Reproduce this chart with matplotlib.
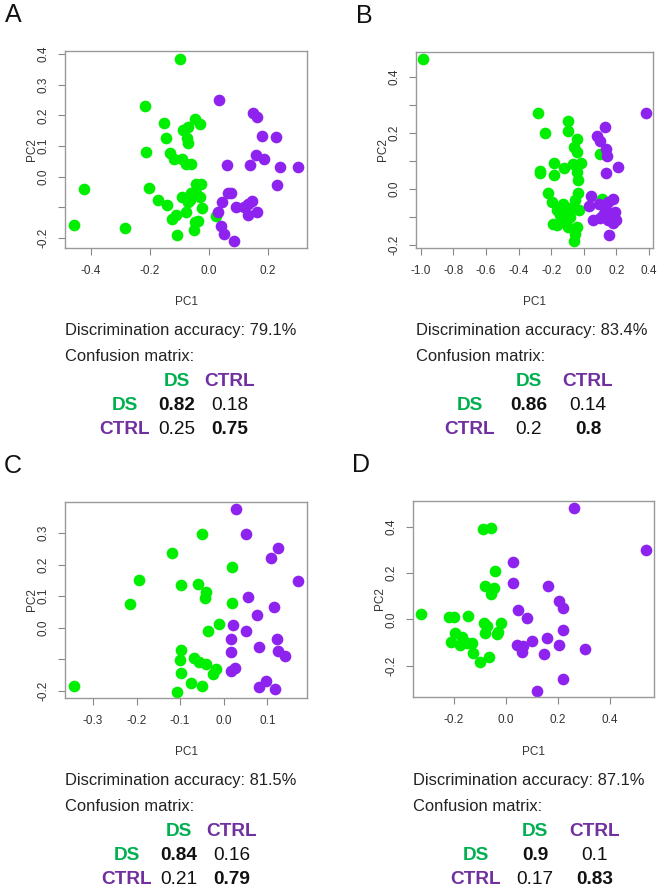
import numpy as np
import matplotlib
matplotlib.use('Agg')
import matplotlib.pyplot as plt

plt.rcParams['font.family'] = ['Liberation Sans', 'DejaVu Sans']

# ---- panel A scores ----
a_ds_pc1 = [-0.099, -0.217, -0.212, -0.153, -0.147, -0.133, -0.120, -0.090, -0.079, -0.060,
            -0.088, -0.071, -0.048, -0.032, -0.074, -0.071, -0.424, -0.457, -0.284, -0.205,
            -0.172, -0.142, -0.124, -0.111, -0.079, -0.108, -0.090, -0.065, -0.043, -0.026,
            -0.043, -0.032, -0.048, -0.052, -0.037, -0.023, 0.023, -0.060, -0.071]
a_ds_pc2 = [0.384, 0.230, 0.082, 0.176, 0.128, 0.078, 0.057, 0.057, 0.043, 0.041,
            0.154, 0.163, 0.190, 0.172, 0.125, 0.109, -0.040, -0.157, -0.166, -0.035,
            -0.076, -0.092, -0.139, -0.125, -0.114, -0.191, -0.065, -0.076, -0.054, -0.022,
            -0.022, -0.065, -0.147, -0.174, -0.143, -0.103, -0.127, -0.054, -0.082]
a_ctrl_pc1 = [0.033, 0.149, 0.163, 0.180, 0.228, 0.062, 0.140, 0.158, 0.186, 0.242,
              0.301, 0.231, 0.064, 0.045, 0.030, 0.092, 0.117, 0.132, 0.146, 0.132,
              0.163, 0.042, 0.050, 0.085, 0.075]
a_ctrl_pc2 = [0.250, 0.209, 0.196, 0.134, 0.130, 0.040, 0.038, 0.071, 0.058, 0.033,
              0.033, -0.027, -0.054, -0.082, -0.116, -0.098, -0.098, -0.089, -0.078, -0.123,
              -0.116, -0.161, -0.185, -0.209, -0.054]

# ---- panel B scores ----
b_ds_pc1 = [-0.988, -0.280, -0.239, -0.269, -0.267, -0.182, -0.180, -0.096, -0.100, -0.041,
            -0.059, -0.045, -0.120, -0.065, -0.020, -0.045, -0.035, -0.218, -0.198, -0.167,
            -0.127, -0.096, -0.147, -0.188, -0.163, -0.127, -0.096, -0.055, -0.035, -0.061,
            -0.029, -0.086, -0.045, -0.055, -0.061, 0.098, 0.114]
b_ds_pc2 = [0.464, 0.272, 0.200, 0.063, 0.057, 0.093, 0.049, 0.243, 0.206, 0.177,
            0.150, 0.132, 0.075, 0.087, 0.091, 0.061, 0.031, -0.017, -0.047, -0.076,
            -0.053, -0.070, -0.094, -0.126, -0.130, -0.112, -0.136, -0.041, -0.014, -0.070,
            -0.076, -0.100, -0.136, -0.162, -0.186, 0.124, -0.038]
b_ctrl_pc1 = [0.384, 0.129, 0.078, 0.098, 0.135, 0.139, 0.133, 0.210, 0.041, 0.033,
              0.057, 0.098, 0.129, 0.149, 0.176, 0.159, 0.190, 0.200, 0.149, 0.180,
              0.155, 0.094, 0.118]
b_ctrl_pc2 = [0.270, 0.222, 0.189, 0.172, 0.142, 0.118, 0.057, 0.079, -0.026, -0.062,
              -0.112, -0.106, -0.070, -0.047, -0.035, -0.088, -0.082, -0.112, -0.112, -0.124,
              -0.166, -0.055, -0.094]

# ---- panel C scores ----
c_ds_pc1 = [-0.344, -0.215, -0.194, -0.118, -0.097, -0.050, -0.059, -0.040, -0.044, 0.020,
            0.018, -0.011, -0.036, -0.097, -0.101, -0.097, -0.068, -0.056, -0.040, -0.018,
            -0.024, -0.076, -0.050, -0.106]
c_ds_pc2 = [-0.183, 0.074, 0.151, 0.237, 0.135, 0.298, 0.140, 0.114, 0.093, 0.191,
            0.077, 0.011, -0.009, -0.071, -0.102, -0.144, -0.095, -0.107, -0.116, -0.131,
            -0.147, -0.176, -0.183, -0.202]
c_ctrl_pc1 = [0.029, 0.050, 0.124, 0.109, 0.170, 0.056, 0.115, 0.076, 0.021, 0.052,
              0.016, 0.081, 0.123, 0.124, 0.141, 0.016, 0.016, 0.027, 0.081, 0.098, 0.117]
c_ctrl_pc2 = [0.375, 0.296, 0.254, 0.221, 0.147, 0.096, 0.066, 0.042, 0.008, -0.011,
              -0.034, -0.060, -0.034, -0.073, -0.088, -0.076, -0.137, -0.128, -0.186, -0.167, -0.192]

# ---- panel D scores ----
d_ds_pc1 = [-0.326, -0.221, -0.199, -0.146, -0.195, -0.212, -0.169, -0.176, -0.150, -0.131,
            -0.128, -0.101, -0.067, -0.090, -0.058, -0.044, -0.079, -0.047, -0.056, -0.086,
            -0.073, -0.079, -0.035, -0.019, -0.032]
d_ds_pc2 = [0.022, 0.009, 0.009, 0.016, -0.060, -0.099, -0.075, -0.111, -0.103, -0.103,
            -0.144, -0.185, -0.161, 0.389, 0.396, 0.208, 0.144, 0.134, 0.109, -0.014,
            -0.027, -0.057, -0.063, -0.014, -0.053]
d_ctrl_pc1 = [0.263, 0.540, 0.027, 0.027, 0.160, 0.045, 0.081, 0.203, 0.219, 0.219,
              0.042, 0.065, 0.062, 0.100, 0.158, 0.145, 0.203, 0.303, 0.219, 0.119]
d_ctrl_pc2 = [0.481, 0.299, 0.246, 0.158, 0.144, 0.040, 0.007, 0.080, 0.047, -0.046,
              -0.111, -0.115, -0.139, -0.093, -0.082, -0.149, -0.111, -0.128, -0.258, -0.307]

accuracy = ['79.1%', '83.4%', '81.5%', '87.1%']
class_names = ['DS', 'CTRL']
conf_a = [['0.82', '0.18'], ['0.25', '0.75']]
conf_b = [['0.86', '0.14'], ['0.2', '0.8']]
conf_c = [['0.84', '0.16'], ['0.21', '0.79']]
conf_d = [['0.9', '0.1'], ['0.17', '0.83']]

green_pt = '#00EE00'
purple_pt = '#8E22EE'
green_txt = '#00B050'
purple_txt = '#7030A0'

W, H = 660, 896
fig = plt.figure(figsize=(W / 100, H / 100), dpi=100)

def fx(x):
    return x / W

def fy(y):
    return 1 - y / H

def panel(letter, box, xlim, ylim, xt, xtl, yt, ytl, ds, ctrl, acc, conf, cols, top):
    l, r, t, b = box
    ax = fig.add_axes([fx(l), fy(b), (r - l) / W, (b - t) / H])
    ax.plot(ds[0], ds[1], 'o', ms=8.4, color=green_pt, mec='none')
    ax.plot(ctrl[0], ctrl[1], 'o', ms=8.4, color=purple_pt, mec='none')
    ax.set_xlim(xlim)
    ax.set_ylim(ylim)
    ax.set_xticks(xt)
    ax.set_xticklabels(xtl)
    ax.set_yticks(yt)
    ax.set_yticklabels(ytl, rotation=90, va='center')
    ax.tick_params(direction='out', length=5, width=0.8, color='#888888',
                   labelsize=8.5, labelcolor='#333333')
    ax.tick_params(axis='x', pad=7.5)
    ax.tick_params(axis='y', pad=6.5)
    for s in ax.spines.values():
        s.set_color('#999999')
        s.set_linewidth(1.0)
    # panel letter and axis titles
    fig.text(fx(l - 52), fy(t - 36), letter, fontsize=18, ha='center', va='center', color='#111111')
    fig.text(fx(l - 33), fy((t + b) / 2), 'PC2', fontsize=8.5, rotation=90,
             ha='center', va='center', color='#333333')
    fig.text(fx((l + r) / 2), fy(top), 'PC1', fontsize=8.5, ha='center', va='center', color='#333333')
    # accuracy text and confusion matrix
    fig.text(fx(l), fy(top + 28.5), 'Discrimination accuracy: ' + acc, fontsize=11.9,
             ha='left', va='center', color='#222222')
    fig.text(fx(l), fy(top + 54.5), 'Confusion matrix:', fontsize=11.9,
             ha='left', va='center', color='#222222')
    lab_x, c1, c2 = cols
    tcol = [green_txt, purple_txt]
    for j, name in enumerate(class_names):
        fig.text(fx([c1, c2][j]), fy(top + 80), name, fontsize=13.7, weight='bold',
                 ha='center', va='center', color=tcol[j])
    for i, name in enumerate(class_names):
        yy = top + 104 + 24 * i
        fig.text(fx(lab_x), fy(yy), name, fontsize=13.7, weight='bold',
                 ha='center', va='center', color=tcol[i])
        for j in range(2):
            fig.text(fx([c1, c2][j]), fy(yy), conf[i][j], fontsize=13.7,
                     weight='bold' if i == j else 'normal',
                     ha='center', va='center', color='#111111')

panel('A', (65, 307, 51, 248), (-0.488, 0.332), (-0.232, 0.41),
      [-0.4, -0.2, 0.0, 0.2], ['-0.4', '-0.2', '0.0', '0.2'],
      [-0.2, -0.1, 0.0, 0.1, 0.2, 0.3, 0.4], ['-0.2', '', '0.0', '0.1', '0.2', '0.3', '0.4'],
      (a_ds_pc1, a_ds_pc2), (a_ctrl_pc1, a_ctrl_pc2), accuracy[0], conf_a,
      (124.5, 176.5, 230), 301.7)

panel('B', (416, 653, 52, 248), (-1.029, 0.424), (-0.212, 0.489),
      [-1.0, -0.8, -0.6, -0.4, -0.2, 0.0, 0.2, 0.4],
      ['-1.0', '-0.8', '-0.6', '-0.4', '-0.2', '0.0', '0.2', '0.4'],
      [-0.2, -0.1, 0.0, 0.1, 0.2, 0.3, 0.4], ['-0.2', '', '0.0', '', '0.2', '', '0.4'],
      (b_ds_pc1, b_ds_pc2), (b_ctrl_pc1, b_ctrl_pc2), accuracy[1], conf_b,
      (470, 529, 588), 301.7)

panel('C', (65, 307, 502, 698), (-0.364, 0.191), (-0.222, 0.398),
      [-0.3, -0.2, -0.1, 0.0, 0.1], ['-0.3', '-0.2', '-0.1', '0.0', '0.1'],
      [-0.2, -0.1, 0.0, 0.1, 0.2, 0.3], ['-0.2', '', '0.0', '0.1', '0.2', '0.3'],
      (c_ds_pc1, c_ds_pc2), (c_ctrl_pc1, c_ctrl_pc2), accuracy[2], conf_c,
      (127, 179, 232), 751.7)

panel('D', (413, 654, 501, 697), (-0.358, 0.570), (-0.335, 0.511),
      [-0.2, 0.0, 0.2, 0.4], ['-0.2', '0.0', '0.2', '0.4'],
      [-0.2, 0.0, 0.2, 0.4], ['-0.2', '0.0', '0.2', '0.4'],
      (d_ds_pc1, d_ds_pc2), (d_ctrl_pc1, d_ctrl_pc2), accuracy[3], conf_d,
      (475.6, 535, 595), 751.7)

fig.savefig('out.png', dpi=100)
